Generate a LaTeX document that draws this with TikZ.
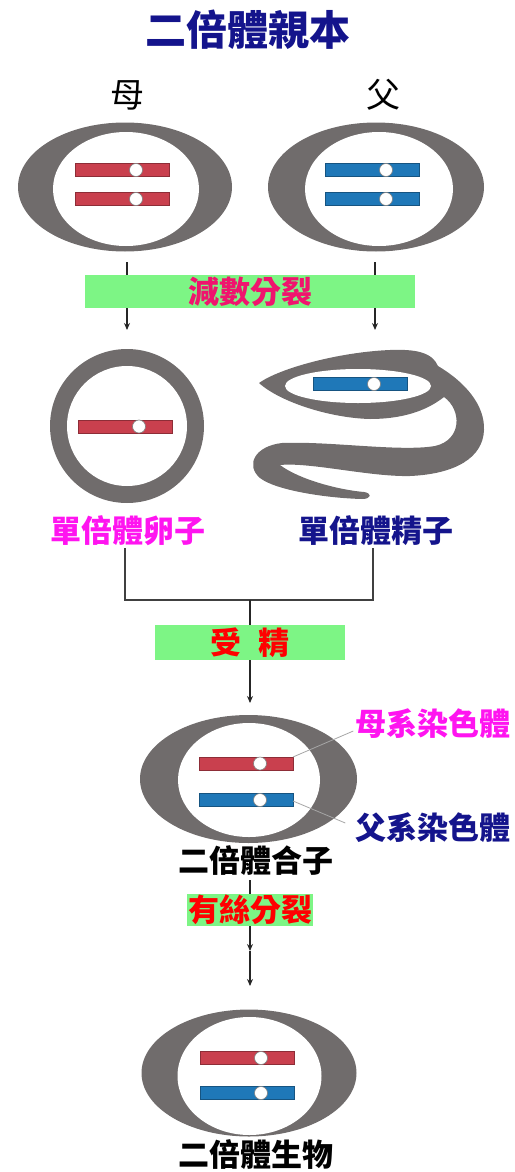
\documentclass[tikz,border=0pt]{standalone}
\usepackage{fontspec}
\setmainfont{Noto Sans CJK TC}
\usetikzlibrary{arrows.meta}

\definecolor{cellgray}{HTML}{706C6C}
\definecolor{chromred}{HTML}{C9404E}
\definecolor{chromblue}{HTML}{1F78B8}
\definecolor{stagegreen}{HTML}{7DF585}
\definecolor{navy}{HTML}{14148C}
\definecolor{pinkred}{HTML}{F0146E}
\definecolor{magenta}{HTML}{FF14F0}

\begin{document}
\begin{tikzpicture}[x=1pt,y=-1pt,
  label/.style={inner sep=2pt, font=\bfseries\fontsize{31pt}{31pt}\selectfont},
  stage/.style={fill=stagegreen, inner sep=0pt, font=\bfseries\fontsize{31pt}{31pt}\selectfont},
  flow/.style={draw=black!85, line width=1.4pt, -{Stealth[length=7pt,width=6pt]}},
  pointer/.style={draw=gray!70, line width=0.8pt}]
\useasboundingbox (0,0) rectangle (514,1172);

% titles
\node[font=\bfseries\fontsize{41pt}{41pt}\selectfont, text=navy] (title) at (248,30) {二倍體親本};
\node[font=\fontsize{34pt}{34pt}\selectfont] (mother) at (127,95) {母};
\node[font=\fontsize{34pt}{34pt}\selectfont] (father) at (383,95) {父};

% draw parent cells
\fill[cellgray] (125,187) ellipse [x radius=107, y radius=64.5];
\fill[white] (126,189) ellipse [x radius=73, y radius=57];
\fill[cellgray] (376,187) ellipse [x radius=108, y radius=64.5];
\fill[white] (379,189) ellipse [x radius=74, y radius=57];

% draw egg
\fill[cellgray] (127,426) circle (77);
\fill[white] (127,426) circle (60);

% draw sperm, head and tail in one piece
\fill[cellgray] (259,383)
  .. controls (280,368) and (340,352) .. (390,350)
  .. controls (415,349) and (432,352) .. (438,366)
  .. controls (465,382) and (485,405) .. (484,430)
  .. controls (483,458) and (455,474) .. (410,476)
  .. controls (370,477) and (310,462) .. (280,465)
  .. controls (300,480) and (340,490) .. (364,492)
  .. controls (372,493) and (372,499) .. (362,499)
  .. controls (325,498) and (275,490) .. (260,478)
  .. controls (245,465) and (255,446) .. (282,443)
  .. controls (330,441) and (400,452) .. (435,446)
  .. controls (462,440) and (462,410) .. (444,397)
  .. controls (425,412) and (400,419) .. (370,419)
  .. controls (330,418) and (280,402) .. (259,383) -- cycle;
\fill[white] (358,386) ellipse [x radius=73, y radius=17];

% draw zygote and diploid cell
\fill[cellgray] (248.5,779) ellipse [x radius=108.5, y radius=64];
\fill[white] (249,780) ellipse [x radius=71, y radius=57];
\fill[cellgray] (249,1073) ellipse [x radius=107.5, y radius=63.5];
\fill[white] (249.5,1076) ellipse [x radius=72, y radius=59];

% draw chromosomes
\foreach \x/\y/\c in {75/170/chromred, 75/199/chromred,
    325/170/chromblue, 325/199/chromblue,
    78/426.5/chromred, 313/384/chromblue,
    199/763.5/chromred, 199/800/chromblue,
    200/1058/chromred, 200/1093/chromblue}
{
  \draw[fill=\c, draw=\c!70!black, line width=0.6pt] (\x,\y-6.5) rectangle (\x+94,\y+6.5);
  \draw[fill=white, draw=gray, line width=0.6pt] (\x+61,\y) circle (6.5);
}

% arrows of meiosis
\coordinate (motherout) at (127,262);
\coordinate (eggin) at (127,330);
\coordinate (fatherout) at (375,262);
\coordinate (spermin) at (375,330);
\draw[flow] (motherout) -- (eggin);
\draw[flow] (fatherout) -- (spermin);
\node[stage, minimum width=330pt, minimum height=33pt, text=pinkred] (meiosis) at (250,291.5) {減數分裂};

% labels of gametes
\node[label, text=magenta] (egglabel) at (128,531) {單倍體卵子};
\node[label, text=navy] (spermlabel) at (376,531) {單倍體精子};

% join the gametes
\coordinate (join) at (250,600);
\coordinate (zygin) at (250,703);
\draw[draw=black!75, line width=2pt] (egglabel.south -| 125,0) |- (join) -| (spermlabel.south -| 373,0);
\draw[flow] (join) -- (zygin);
\node[stage, minimum width=190pt, minimum height=35pt, text=red] (fertilize) at (250,642.5) {受\hspace{0.55em}精};

% zygote labels
\node[label, text=magenta] (matlabel) at (433,724) {母系染色體};
\node[label, text=navy] (patlabel) at (433,828) {父系染色體};
\coordinate (matend) at (293,757);
\coordinate (patend) at (293,801);
\draw[pointer] (matend) -- ([yshift=-7pt]matlabel.west);
\draw[pointer] (patend) -- ([xshift=-8pt,yshift=5pt]patlabel.west);
\node[label] (zyglabel) at (256,861) {二倍體合子};

% arrow of mitosis, two heads
\coordinate (zygout) at (250,880);
\coordinate (mitmid) at (250,951);
\coordinate (adultin) at (250,986);
\draw[flow] (zygout) -- (mitmid);
\draw[flow] (mitmid) -- (adultin);
\node[stage, inner sep=1pt, text=red] (mitosis) at (250,910) {有絲分裂};

\node[label] (adultlabel) at (256,1155) {二倍體生物};
\end{tikzpicture}
\end{document}
